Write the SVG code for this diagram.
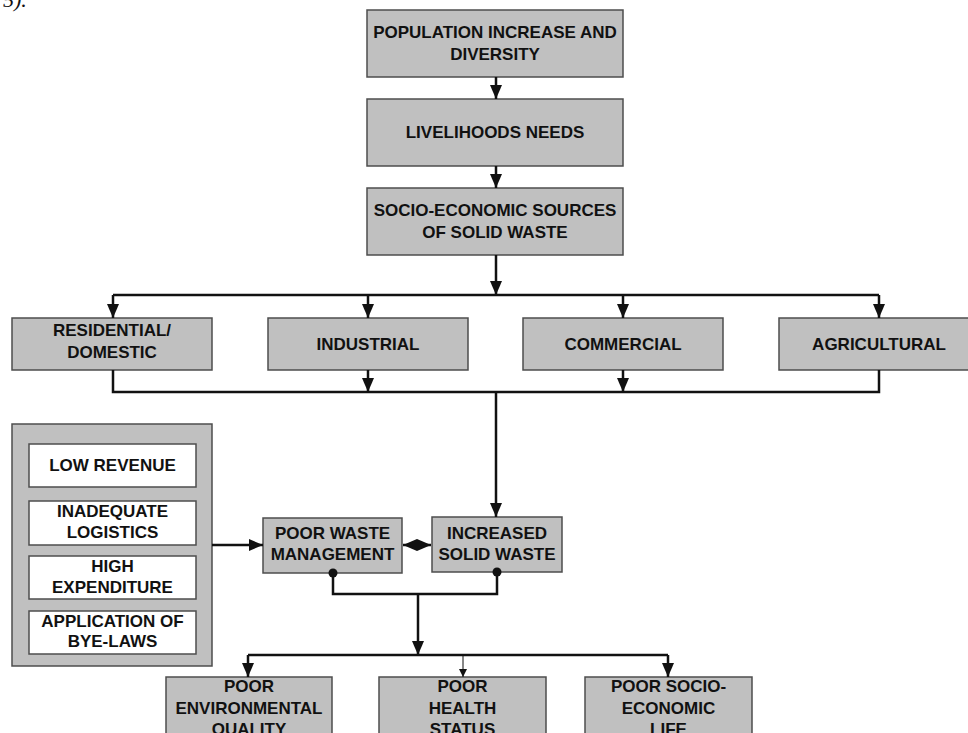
<svg xmlns="http://www.w3.org/2000/svg" width="968" height="733" viewBox="0 0 968 733">
<defs>
<marker id="arr" viewBox="0 0 14 12" refX="14" refY="6" markerWidth="14" markerHeight="12" markerUnits="userSpaceOnUse" orient="auto-start-reverse">
<path d="M0,0 L14,6 L0,12 z" fill="#111"/>
</marker>
<marker id="arrs" viewBox="0 0 8 8" refX="8" refY="4" markerWidth="8" markerHeight="8" markerUnits="userSpaceOnUse" orient="auto">
<path d="M0,0 L8,4 L0,8 z" fill="#111"/>
</marker>
</defs>
<style>
.box{fill:#c0c0c0;stroke:#4d4d4d;stroke-width:1.5}
.wbox{fill:#ffffff;stroke:#4d4d4d;stroke-width:1.5}
.t{font-family:"Liberation Sans",Arial,sans-serif;font-weight:bold;font-size:17px;fill:#111;text-anchor:middle}
.ln{fill:none;stroke:#111;stroke-width:2.5}
.thin{fill:none;stroke:#111;stroke-width:1}
</style>
<rect width="968" height="733" fill="#ffffff"/>
<text x="3" y="7" font-family="'Liberation Serif',serif" font-style="italic" font-size="22" fill="#111">5).</text>

<g id="population">
<rect class="box" x="367" y="10" width="256" height="67"/>
<text class="t" x="495" y="38">POPULATION INCREASE AND</text>
<text class="t" x="495" y="59.5">DIVERSITY</text>
</g>
<g id="livelihoods">
<rect class="box" x="367" y="99" width="256" height="67"/>
<text class="t" x="495" y="138">LIVELIHOODS NEEDS</text>
</g>
<g id="sources">
<rect class="box" x="367" y="188" width="256" height="67"/>
<text class="t" x="495" y="216">SOCIO-ECONOMIC SOURCES</text>
<text class="t" x="495" y="237.5">OF SOLID WASTE</text>
</g>

<g id="residential">
<rect class="box" x="12" y="318" width="200" height="52"/>
<text class="t" x="112" y="336">RESIDENTIAL/</text>
<text class="t" x="112" y="358">DOMESTIC</text>
</g>
<g id="industrial">
<rect class="box" x="268" y="318" width="200" height="52"/>
<text class="t" x="368" y="350">INDUSTRIAL</text>
</g>
<g id="commercial">
<rect class="box" x="523" y="318" width="200" height="52"/>
<text class="t" x="623" y="350">COMMERCIAL</text>
</g>
<g id="agricultural">
<rect class="box" x="779" y="318" width="200" height="52"/>
<text class="t" x="879" y="350">AGRICULTURAL</text>
</g>

<g id="constraints">
<rect class="box" x="12" y="424" width="200" height="242"/>
<g id="low-revenue">
<rect class="wbox" x="29" y="444" width="167" height="43"/>
<text class="t" x="112.5" y="471">LOW REVENUE</text>
</g>
<g id="inadequate-logistics">
<rect class="wbox" x="29" y="501" width="167" height="44"/>
<text class="t" x="112.5" y="517">INADEQUATE</text>
<text class="t" x="112.5" y="538">LOGISTICS</text>
</g>
<g id="high-expenditure">
<rect class="wbox" x="29" y="556" width="167" height="43"/>
<text class="t" x="112.5" y="572">HIGH</text>
<text class="t" x="112.5" y="593">EXPENDITURE</text>
</g>
<g id="bye-laws">
<rect class="wbox" x="29" y="611" width="167" height="43"/>
<text class="t" x="112.5" y="627">APPLICATION OF</text>
<text class="t" x="112.5" y="647">BYE-LAWS</text>
</g>
</g>

<g id="poor-waste-management">
<rect class="box" x="263" y="518" width="139" height="55"/>
<text class="t" x="332.5" y="539">POOR WASTE</text>
<text class="t" x="332.5" y="560">MANAGEMENT</text>
</g>
<g id="increased-solid-waste">
<rect class="box" x="432" y="517" width="130" height="55"/>
<text class="t" x="497" y="539">INCREASED</text>
<text class="t" x="497" y="560">SOLID WASTE</text>
</g>

<g id="poor-environmental-quality">
<rect class="box" x="166" y="677" width="166" height="67"/>
<text class="t" x="249" y="692">POOR</text>
<text class="t" x="249" y="713.5">ENVIRONMENTAL</text>
<text class="t" x="249" y="735">QUALITY</text>
</g>
<g id="poor-health-status">
<rect class="box" x="379" y="677" width="167" height="67"/>
<text class="t" x="462.5" y="692">POOR</text>
<text class="t" x="462.5" y="713.5">HEALTH</text>
<text class="t" x="462.5" y="735">STATUS</text>
</g>
<g id="poor-socio-economic-life">
<rect class="box" x="585" y="677" width="167" height="67"/>
<text class="t" x="668.5" y="692">POOR SOCIO-</text>
<text class="t" x="668.5" y="713.5">ECONOMIC</text>
<text class="t" x="668.5" y="735">LIFE</text>
</g>

<g id="connectors">
<path class="ln" d="M496,77 V99" marker-end="url(#arr)"/>
<path class="ln" d="M496,166 V188" marker-end="url(#arr)"/>
<path class="ln" d="M496,255 V295" marker-end="url(#arr)"/>
<path class="ln" d="M113,295 H879"/>
<path class="ln" d="M113,295 V318" marker-end="url(#arr)"/>
<path class="ln" d="M368,295 V318" marker-end="url(#arr)"/>
<path class="ln" d="M623,295 V318" marker-end="url(#arr)"/>
<path class="ln" d="M879,295 V318" marker-end="url(#arr)"/>
<path class="ln" d="M113,370 V392 H879 V370"/>
<path class="ln" d="M368,370 V392" marker-end="url(#arr)"/>
<path class="ln" d="M623,370 V392" marker-end="url(#arr)"/>
<path class="ln" d="M496,392 V517" marker-end="url(#arr)"/>
<path class="ln" d="M212,545 H263" marker-end="url(#arr)"/>
<path class="ln" d="M403,545 H431" marker-start="url(#arr)" marker-end="url(#arr)"/>
<path class="ln" d="M333,573 V594 H497 V572"/>
<circle cx="333" cy="573" r="4.5" fill="#111"/>
<circle cx="497" cy="572" r="4.5" fill="#111"/>
<path class="ln" d="M418,594 V655" marker-end="url(#arr)"/>
<path class="ln" d="M248,655 H668"/>
<path class="ln" d="M248,655 V677" marker-end="url(#arr)"/>
<path class="ln" d="M668,655 V677" marker-end="url(#arr)"/>
<path class="thin" d="M463,655 V677" marker-end="url(#arrs)"/>
</g>
</svg>
